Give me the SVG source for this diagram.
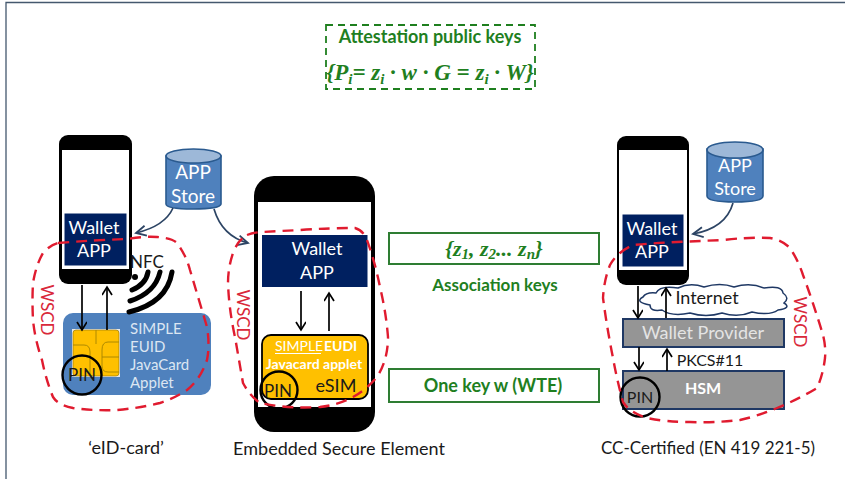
<svg xmlns="http://www.w3.org/2000/svg" width="845" height="479" viewBox="0 0 845 479">
<style>
text{font-family:"Lato","Open Sans","Liberation Sans",sans-serif}
.phone{fill:#000}
.screen{fill:#fff}
.navy{fill:#002060;stroke:#fff;stroke-width:1}
.w{fill:#fff;text-anchor:middle}
.lw{fill:#dce6f2}
.k{fill:#1a1a1a}
.gbox{fill:none;stroke:#2e7d32;stroke-width:2}
.g{fill:#1f7f1f;font-weight:700;text-anchor:middle}
text.m{font-family:"Liberation Serif","DejaVu Serif",serif;font-weight:700;font-style:italic;fill:#1f7f1f;text-anchor:middle}
.wscd{fill:none;stroke:#e01b2f;stroke-width:2.4;stroke-dasharray:11 7}
.wt{fill:#d9283a;font-size:17px;text-anchor:middle}
.cyl{fill:#4f81bd;stroke:#2a5a8f;stroke-width:1.6}
.cyltop{fill:#9db8d8;stroke:#2a5a8f;stroke-width:1.6}
.gray{fill:#959595;stroke:#1f3864;stroke-width:2}
.pin{fill:none;stroke:#000;stroke-width:2.4}
.ar{fill:none;stroke:#000;stroke-width:1.7;marker-end:url(#a)}
.cu{fill:none;stroke:#2c4464;stroke-width:1.7;marker-end:url(#b)}
</style>
<defs>
<marker id="a" markerWidth="12" markerHeight="12" refX="9" refY="5" orient="auto" markerUnits="userSpaceOnUse"><path d="M1 0L9 5L1 10" fill="none" stroke="#000" stroke-width="1.7"/></marker>
<marker id="b" markerWidth="14" markerHeight="14" refX="11" refY="6" orient="auto" markerUnits="userSpaceOnUse"><path d="M1 1L11 6L1 11" fill="none" stroke="#2c4464" stroke-width="1.8"/></marker>
</defs>
<rect width="845" height="479" fill="#fff"/>
<path d="M6 479V2.500H845" stroke="#44586e" stroke-width="1.300" fill="none"/>

<g id="attestation">
<rect x="326" y="25" width="209" height="64" fill="none" stroke="#1f7f1f" stroke-width="1.800" stroke-dasharray="7 5"/>
<text x="430" y="43" class="g" font-size="18">Attestation public keys</text>
<text x="430" y="80" class="m" font-size="23">{P<tspan font-size="15" dy="4">i</tspan><tspan dy="-4">= z</tspan><tspan font-size="15" dy="4">i</tspan><tspan dy="-4"> · w · G = z</tspan><tspan font-size="15" dy="4">i</tspan><tspan dy="-4"> · W}</tspan></text>
</g>

<g id="phone-eid">
<rect x="59" y="135" width="73" height="149" rx="9" class="phone"/>
<rect x="62" y="150" width="67" height="119" class="screen"/>
<rect x="64" y="213" width="63" height="53" class="navy"/>
<text x="94" y="234" class="w" font-size="18">Wallet</text>
<text x="94" y="257" class="w" font-size="18">APP</text>
</g>
<g id="store-eid">
<path d="M166 156V204Q166 209 193 209T221 204V156Z" class="cyl"/>
<ellipse cx="193.500" cy="156" rx="27.500" ry="7" class="cyltop"/>
<text x="193" y="179" class="w" font-size="19">APP</text>
<text x="193" y="203" class="w" font-size="19">Store</text>
</g>
<g id="card">
<rect x="63" y="313" width="148" height="82" rx="10" fill="#4f81bd"/>
<rect x="72" y="329" width="48" height="48" fill="#e8e8e8"/>
<rect x="73" y="330" width="46" height="46" rx="3" fill="#ffc000" stroke="#8a6d00" stroke-width=".6"/>
<path d="M73 345H84Q90 345 90 352V376M96 330V344M119 342H108Q102 342 102 350V366Q102 372 108 372H119M102 357H119" fill="none" stroke="#a58300" stroke-width=".9"/>
<g class="lw" font-size="15"><text x="130" y="334">SIMPLE</text><text x="130" y="352">EUID</text><text x="130" y="370">JavaCard</text><text x="130" y="388">Applet</text></g>
<circle cx="82" cy="375" r="19.500" class="pin"/>
<text x="82" y="381" class="k" font-size="17" text-anchor="middle">PIN</text>
</g>
<g id="nfc">
<text x="147" y="268" class="k" font-size="17" text-anchor="middle">NFC</text>
<circle cx="135" cy="277" r="3" fill="#000"/>
<g fill="none" stroke="#000" stroke-width="5" stroke-linecap="round"><path d="M132 290Q146 284 148 272"/><path d="M130 301Q155 293 160 272"/><path d="M129 312Q167 303 172 272"/></g>
</g>

<g id="phone-ese">
<rect x="254" y="176" width="121" height="256" rx="20" class="phone"/>
<rect x="258" y="202" width="113" height="205" class="screen"/>
<rect x="262" y="235" width="105.500" height="52" fill="#002060"/>
<text x="317" y="255" class="w" font-size="18">Wallet</text>
<text x="317" y="279" class="w" font-size="18">APP</text>
<rect x="262" y="335" width="106" height="64" rx="9" fill="#ffc000" stroke="#000" stroke-width="1.800"/>
<text x="275" y="351" fill="#fff" font-size="14">SIMPLE</text>
<path d="M275 353.500H321" stroke="#fff" stroke-width="1"/>
<text x="324" y="351" fill="#fff" font-size="14" font-weight="700">EUDI</text>
<text x="314" y="369" class="w" font-size="14" font-weight="700">Javacard applet</text>
<text x="336" y="392" class="k" font-size="18" text-anchor="middle">eSIM</text>
<circle cx="279" cy="390" r="18.500" class="pin"/>
<text x="278" y="397" class="k" font-size="17" text-anchor="middle">PIN</text>
</g>

<g id="keys">
<rect x="389" y="233" width="210" height="31" class="gbox"/>
<text x="494" y="256" class="m" font-size="22">{z<tspan font-size="15" dy="3">1</tspan><tspan dy="-3">, z</tspan><tspan font-size="15" dy="3">2</tspan><tspan dy="-3">... z</tspan><tspan font-size="15" dy="3">n</tspan><tspan dy="-3">}</tspan></text>
<text x="495" y="291" class="g" font-size="17">Association keys</text>
<rect x="389" y="369" width="210" height="33" class="gbox"/>
<text x="493" y="392" class="g" font-size="18">One key w (WTE)</text>
</g>

<g id="phone-cc">
<rect x="617" y="136" width="72" height="149" rx="9" class="phone"/>
<rect x="619" y="150" width="68" height="120" class="screen"/>
<rect x="622" y="214" width="62" height="53" class="navy"/>
<text x="652" y="235" class="w" font-size="18">Wallet</text>
<text x="652" y="258" class="w" font-size="18">APP</text>
</g>
<g id="store-cc">
<path d="M707 149V196Q707 202 735 202T763 196V149Z" class="cyl"/>
<ellipse cx="735" cy="150" rx="28" ry="8" class="cyltop"/>
<text x="735" y="172" class="w" font-size="18">APP</text>
<text x="735" y="195" class="w" font-size="18">Store</text>
</g>
<g id="internet">
<path d="M656 293Q660 285 678 288Q690 282 704 287Q720 282 734 287Q750 282 764 288Q782 285 783 293Q790 298 784 303Q792 308 778 310Q770 316 752 312Q738 318 722 313Q706 318 690 313Q672 317 662 310Q650 312 650 305Q634 302 643 297Q646 292 656 293Z" fill="#fff" stroke="#1f3864" stroke-width="1.500"/>
<text x="707" y="304" class="k" font-size="18" text-anchor="middle">Internet</text>
</g>
<g id="wallet-provider">
<rect x="623" y="319" width="161" height="28" class="gray"/>
<text x="703" y="339" font-size="18" fill="#e4e4e4" text-anchor="middle">Wallet Provider</text>
</g>
<text x="710" y="366" class="k" font-size="16" text-anchor="middle">PKCS#11</text>
<g id="hsm">
<rect x="623" y="371" width="161" height="38" class="gray"/>
<text x="703" y="394" class="w" font-size="16" font-weight="700">HSM</text>
<circle cx="640" cy="397" r="19.500" class="pin"/>
<text x="640" y="403" class="k" font-size="16" text-anchor="middle">PIN</text>
</g>

<g id="connectors">
<path class="cu" d="M173 208Q165 226 136 233"/>
<path class="cu" d="M214 209Q222 236 248 243"/>
<path class="cu" d="M733 203Q726 228 693 234"/>
<path class="ar" d="M82 285V330"/>
<path class="ar" d="M107 330V287"/>
<path class="ar" d="M301 291V330"/>
<path class="ar" d="M329 331V293"/>
<path class="ar" d="M638 286V318"/>
<path class="ar" d="M666 318V288"/>
<path class="ar" d="M639 347V370"/>
<path class="ar" d="M667 371V349"/>
</g>

<g id="wscd-eid">
<path class="wscd" d="M58 243Q95 240 128 239Q145 236 157 237Q172 238 177 243Q186 255 190 270L207 327Q210 345 207 360Q200 380 187 390Q175 398 160 403Q140 408 117 410Q95 411 73 408Q58 405 53 397Q46 380 42 360Q35 340 33 320Q32 300 33 283Q36 265 43 253Q50 245 58 243Z"/>
<text transform="translate(41 310) rotate(90)" class="wt">WSCD</text>
</g>
<g id="wscd-ese">
<path class="wscd" d="M247 235Q255 232 263 232Q280 231 300 230Q330 228 355 228Q363 230 367 240Q375 262 380 287Q386 312 388 337Q388 360 377 377Q366 390 353 397Q338 405 320 407Q288 409 260 403Q250 396 243 383Q239 360 235 337Q229 310 228 283Q228 268 233 253Q238 240 247 235Z"/>
<text transform="translate(237 315) rotate(90)" class="wt">WSCD</text>
</g>
<g id="wscd-cc">
<path class="wscd" d="M620 253Q626 248 633 245Q655 243 677 242Q700 241 723 240Q750 237 770 238Q782 240 790 248Q798 260 803 275Q814 305 823 335Q826 347 825 358Q823 375 817 388Q797 400 777 408Q758 416 740 420Q715 423 690 422Q665 422 647 418Q630 413 623 402Q617 380 613 358Q607 328 603 298Q604 280 610 265Q614 258 620 253Z"/>
<text transform="translate(794 322) rotate(90)" class="wt">WSCD</text>
</g>

<g id="captions" class="k" text-anchor="middle">
<text x="126" y="454" font-size="18">‘eID-card’</text>
<text x="339" y="455" font-size="18">Embedded Secure Element</text>
<text x="708" y="454" font-size="17">CC-Certified (EN 419 221-5)</text>
</g>
</svg>
